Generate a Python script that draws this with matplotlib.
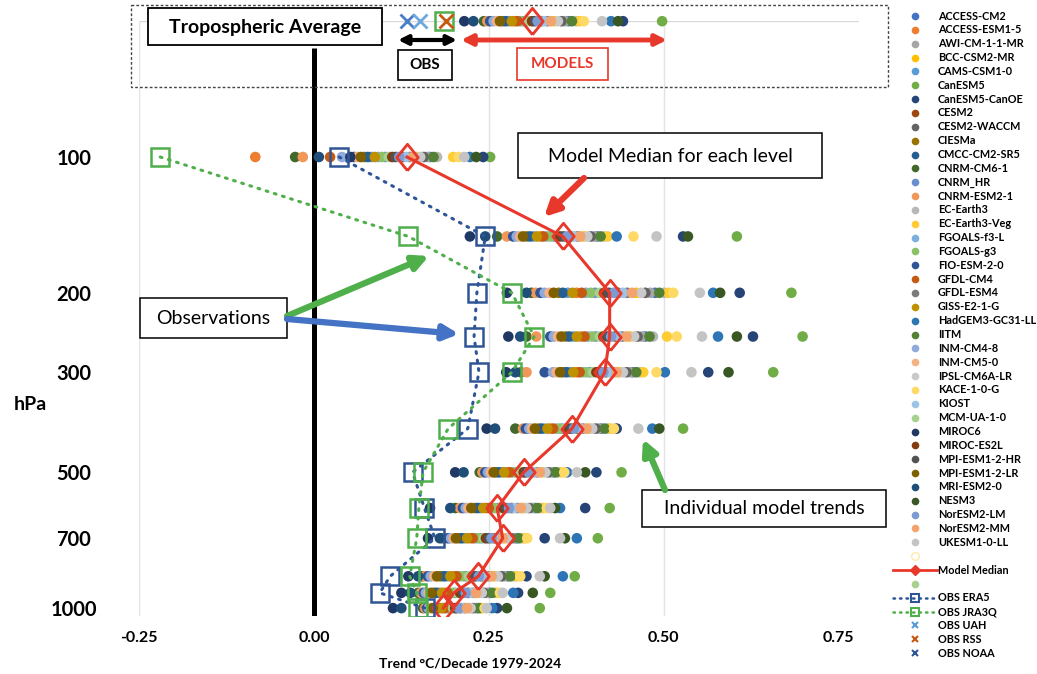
import matplotlib
matplotlib.use("Agg")
import matplotlib.pyplot as plt
from matplotlib.patches import Rectangle, FancyArrowPatch
from matplotlib.ticker import NullLocator, FixedLocator

plt.rcParams['font.family'] = ['Lato', 'DejaVu Sans']

# ---------------- data ----------------
models = ["ACCESS-CM2", "ACCESS-ESM1-5", "AWI-CM-1-1-MR", "BCC-CSM2-MR", "CAMS-CSM1-0",
          "CanESM5", "CanESM5-CanOE", "CESM2", "CESM2-WACCM", "CIESMa", "CMCC-CM2-SR5",
          "CNRM-CM6-1", "CNRM_HR", "CNRM-ESM2-1", "EC-Earth3", "EC-Earth3-Veg",
          "FGOALS-f3-L", "FGOALS-g3", "FIO-ESM-2-0", "GFDL-CM4", "GFDL-ESM4", "GISS-E2-1-G",
          "HadGEM3-GC31-LL", "IITM", "INM-CM4-8", "INM-CM5-0", "IPSL-CM6A-LR", "KACE-1-0-G",
          "KIOST", "MCM-UA-1-0", "MIROC6", "MIROC-ES2L", "MPI-ESM1-2-HR", "MPI-ESM1-2-LR",
          "MRI-ESM2-0", "NESM3", "NorESM2-LM", "NorESM2-MM", "UKESM1-0-LL"]
model_colors = ["#4472C4", "#ED7D31", "#A5A5A5", "#FFC000", "#5B9BD5", "#70AD47",
                "#264478", "#9E480E", "#636363", "#997300", "#255E91", "#43682B",
                "#698ED0", "#F1975A", "#B7B7B7", "#FFCD33", "#7CAFDD", "#8CC168",
                "#2F5597", "#C55A11", "#7B7B7B", "#BF9000", "#2E75B6", "#548235",
                "#8FAADC", "#F4B183", "#C9C9C9", "#FFD966", "#9DC3E6", "#A9D18E",
                "#203864", "#843C0C", "#525252", "#7F6000", "#1F4E79", "#385723",
                "#7C9BD3", "#F2A36E", "#C4C4C4"]

# order in which the per-level trend lists below are written
rank_models = ["MIROC6", "MRI-ESM2-0", "CNRM-CM6-1", "CNRM-ESM2-1", "FIO-ESM-2-0", "INM-CM4-8",
               "INM-CM5-0", "MPI-ESM1-2-LR", "CIESMa", "CMCC-CM2-SR5", "CAMS-CSM1-0",
               "GISS-E2-1-G", "ACCESS-ESM1-5", "GFDL-CM4", "FGOALS-f3-L", "FGOALS-g3",
               "CNRM_HR", "MCM-UA-1-0", "MIROC-ES2L", "MPI-ESM1-2-HR", "NorESM2-LM", "CESM2",
               "KIOST", "GFDL-ESM4", "NorESM2-MM", "BCC-CSM2-MR", "IPSL-CM6A-LR", "CESM2-WACCM",
               "AWI-CM-1-1-MR", "ACCESS-CM2", "IITM", "EC-Earth3", "EC-Earth3-Veg", "KACE-1-0-G",
               "UKESM1-0-LL", "HadGEM3-GC31-LL", "NESM3", "CanESM5-CanOE", "CanESM5"]

levels = [100, 150, 200, 250, 300, 400, 500, 600, 700, 850, 925, 1000]
trop_level = 50

trend_trop = [0.215, 0.228, 0.243, 0.248, 0.252, 0.257, 0.262, 0.266, 0.270, 0.274, 0.279, 0.283,
              0.287, 0.291, 0.296, 0.300, 0.304, 0.308, 0.312, 0.316, 0.320, 0.325, 0.329, 0.334,
              0.339, 0.344, 0.349, 0.354, 0.359, 0.364, 0.369, 0.375, 0.380, 0.386, 0.412, 0.425,
              0.435, 0.442, 0.498]
trend_100 = [0.052, 0.007, -0.027, -0.016, 0.057, 0.040, 0.062, 0.067, 0.072, 0.077, 0.082, 0.087,
             -0.084, 0.023, 0.092, 0.097, 0.102, 0.107, 0.112, 0.117, 0.122, 0.127, 0.132, 0.137,
             0.142, 0.147, 0.152, 0.157, 0.162, 0.166, 0.171, 0.176, 0.199, 0.207, 0.215, 0.223,
             0.232, 0.242, 0.252]
trend_150 = [0.223, 0.245, 0.262, 0.276, 0.285, 0.290, 0.295, 0.299, 0.304, 0.309, 0.314, 0.319,
             0.324, 0.328, 0.333, 0.338, 0.343, 0.348, 0.352, 0.357, 0.362, 0.367, 0.372, 0.377,
             0.381, 0.386, 0.391, 0.396, 0.401, 0.405, 0.410, 0.415, 0.420, 0.457, 0.490, 0.433,
             0.535, 0.528, 0.605]
trend_200 = [0.276, 0.304, 0.311, 0.317, 0.324, 0.330, 0.337, 0.343, 0.350, 0.356, 0.363, 0.370,
             0.376, 0.383, 0.389, 0.396, 0.402, 0.409, 0.415, 0.422, 0.429, 0.435, 0.442, 0.448,
             0.455, 0.461, 0.468, 0.474, 0.481, 0.488, 0.494, 0.501, 0.507, 0.514, 0.552, 0.571,
             0.581, 0.609, 0.683]
trend_250 = [0.278, 0.295, 0.304, 0.318, 0.338, 0.343, 0.349, 0.354, 0.360, 0.365, 0.371, 0.376,
             0.382, 0.387, 0.392, 0.398, 0.403, 0.409, 0.414, 0.420, 0.425, 0.431, 0.436, 0.441,
             0.447, 0.452, 0.458, 0.463, 0.469, 0.474, 0.480, 0.485, 0.505, 0.519, 0.555, 0.578,
             0.605, 0.628, 0.699]
trend_300 = [0.275, 0.288, 0.296, 0.304, 0.330, 0.342, 0.347, 0.352, 0.356, 0.361, 0.366, 0.371,
             0.376, 0.380, 0.385, 0.390, 0.395, 0.399, 0.404, 0.409, 0.414, 0.418, 0.423, 0.428,
             0.433, 0.437, 0.442, 0.447, 0.452, 0.456, 0.461, 0.466, 0.471, 0.490, 0.540, 0.502,
             0.593, 0.564, 0.657]
trend_400 = [0.247, 0.259, 0.288, 0.299, 0.303, 0.308, 0.312, 0.316, 0.321, 0.325, 0.329, 0.334,
             0.338, 0.342, 0.347, 0.351, 0.355, 0.360, 0.364, 0.368, 0.372, 0.377, 0.381, 0.385,
             0.390, 0.394, 0.398, 0.403, 0.407, 0.411, 0.416, 0.420, 0.424, 0.429, 0.464, 0.484,
             0.494, 0.433, 0.528]
trend_500 = [0.202, 0.214, 0.237, 0.241, 0.245, 0.249, 0.253, 0.257, 0.260, 0.264, 0.268, 0.272,
             0.276, 0.280, 0.284, 0.288, 0.292, 0.296, 0.300, 0.303, 0.307, 0.311, 0.315, 0.319,
             0.323, 0.327, 0.331, 0.335, 0.339, 0.343, 0.346, 0.350, 0.354, 0.358, 0.376, 0.362,
             0.388, 0.404, 0.440]
trend_600 = [0.166, 0.195, 0.202, 0.209, 0.213, 0.217, 0.221, 0.225, 0.230, 0.234, 0.238, 0.242,
             0.246, 0.250, 0.254, 0.258, 0.263, 0.267, 0.271, 0.275, 0.279, 0.283, 0.287, 0.291,
             0.296, 0.300, 0.304, 0.308, 0.312, 0.316, 0.320, 0.325, 0.329, 0.333, 0.338, 0.352,
             0.345, 0.388, 0.423]
trend_700 = [0.163, 0.180, 0.184, 0.188, 0.192, 0.196, 0.200, 0.203, 0.207, 0.211, 0.215, 0.219,
             0.223, 0.227, 0.231, 0.235, 0.239, 0.243, 0.246, 0.250, 0.254, 0.258, 0.262, 0.266,
             0.270, 0.274, 0.278, 0.282, 0.286, 0.289, 0.293, 0.297, 0.301, 0.305, 0.352, 0.376,
             0.359, 0.330, 0.406]
trend_850 = [0.135, 0.149, 0.154, 0.158, 0.163, 0.167, 0.172, 0.176, 0.181, 0.186, 0.190, 0.195,
             0.199, 0.204, 0.208, 0.213, 0.217, 0.222, 0.227, 0.231, 0.236, 0.240, 0.245, 0.249,
             0.254, 0.258, 0.263, 0.268, 0.272, 0.277, 0.281, 0.286, 0.290, 0.295, 0.323, 0.356,
             0.330, 0.304, 0.373]
trend_925 = [0.125, 0.138, 0.149, 0.153, 0.157, 0.160, 0.164, 0.168, 0.172, 0.175, 0.179, 0.183,
             0.187, 0.191, 0.194, 0.198, 0.202, 0.206, 0.209, 0.213, 0.217, 0.221, 0.225, 0.228,
             0.232, 0.236, 0.240, 0.243, 0.247, 0.251, 0.255, 0.259, 0.262, 0.266, 0.270, 0.285,
             0.313, 0.292, 0.338]
trend_1000 = [0.113, 0.125, 0.156, 0.159, 0.162, 0.164, 0.167, 0.170, 0.173, 0.176, 0.179, 0.182,
              0.184, 0.187, 0.190, 0.193, 0.196, 0.199, 0.202, 0.204, 0.207, 0.210, 0.213, 0.216,
              0.219, 0.222, 0.224, 0.227, 0.230, 0.233, 0.236, 0.239, 0.241, 0.244, 0.247, 0.255,
              0.276, 0.262, 0.323]
level_rows = [trend_100, trend_150, trend_200, trend_250, trend_300, trend_400, trend_500,
              trend_600, trend_700, trend_850, trend_925, trend_1000]

median_levels = [0.133, 0.356, 0.423, 0.423, 0.416, 0.369, 0.300, 0.262, 0.270, 0.235, 0.200, 0.185]
median_trop = 0.312

obs_era5 = [0.036, 0.245, 0.233, 0.229, 0.236, 0.220, 0.141, 0.158, 0.173, 0.109, 0.094, 0.159]
obs_jra3q = [-0.220, 0.135, 0.283, 0.315, 0.283, 0.192, 0.156, 0.150, 0.147, 0.137, 0.147, 0.149]
trop_jra3q = 0.186
trop_uah = 0.152
trop_rss = 0.189
trop_noaa = 0.133

xticks = [-0.25, 0.0, 0.25, 0.50, 0.75]
xtick_labels = ["-0.25", "0.00", "0.25", "0.50", "0.75"]
ytick_levels = [100, 200, 300, 500, 700, 1000]

RED = "#E8382B"
ERA_C = "#2F5597"
JRA_C = "#4FAF4A"

# ---------------- figure ----------------
W, H = 1037, 674
fig = plt.figure(figsize=(W / 100, H / 100), dpi=100)

x_left_px, x_right_px = 139.25, 314 + 0.78 * 699
y_top_px, y_bot_px = 21.2, 616
ax = fig.add_axes([x_left_px / W, 1 - y_bot_px / H,
                   (x_right_px - x_left_px) / W, (y_bot_px - y_top_px) / H])
ax.set_yscale('log')
ax.set_xlim(-0.25, 0.78)
ax.set_ylim(1041, trop_level)
for s in ax.spines.values():
    s.set_visible(False)

ax.vlines([-0.25, 0.25, 0.50], trop_level, 1041, color="#E3E3E3", lw=1, zorder=0)
ax.hlines(trop_level, -0.25, 0.78, color="#D9D9D9", lw=1, zorder=0)
ax.vlines(0, 57.3, 1041, color="black", lw=3.6, zorder=1)

ax.yaxis.set_major_locator(FixedLocator(ytick_levels))
ax.yaxis.set_minor_locator(NullLocator())
ax.set_yticklabels([str(v) for v in ytick_levels], fontsize=14.5, fontweight='bold')
for t in ax.get_yticklabels():
    t.set_ha('center')
ax.tick_params(axis='y', length=0, pad=47)
ax.set_xticks(xticks)
ax.set_xticklabels(xtick_labels, fontsize=11.5, fontweight='bold')
ax.tick_params(axis='x', length=0, pad=11)

rank_index = {m: i for i, m in enumerate(rank_models)}
for m, c in zip(models, model_colors):
    r = rank_index[m]
    xs = [trend_trop[r]] + [row[r] for row in level_rows]
    ys = [trop_level] + levels
    ax.scatter(xs, ys, s=58, color=c, edgecolors='none', zorder=3, clip_on=False)

diamond = [(0, -1.23), (1, 0), (0, 1.23), (-1, 0), (0, -1.23)]
ax.plot(median_levels, levels, color=RED, lw=2.2, marker=diamond, ms=19, mfc='none',
        mec=RED, mew=2, zorder=5)
ax.plot([median_trop], [trop_level], ls='none', marker=diamond, ms=19, mfc='none',
        mec=RED, mew=2, zorder=5, clip_on=False)

ax.plot(obs_era5, levels, color=ERA_C, lw=2.2, ls=(0, (0.6, 2.2)), dash_capstyle='round',
        marker='s', ms=13, mfc='none', mec=ERA_C, mew=1.8, zorder=6)
ax.plot(obs_jra3q, levels, color=JRA_C, lw=2.2, ls=(0, (0.6, 2.2)), dash_capstyle='round',
        marker='s', ms=13, mfc='none', mec=JRA_C, mew=1.8, zorder=6)
ax.plot([trop_jra3q], [trop_level], ls='none', marker='s', ms=13, mfc='none', mec=JRA_C,
        mew=1.8, zorder=6, clip_on=False)
ax.plot([trop_noaa], [trop_level], ls='none', marker='x', ms=10, mec="#4A7FC8", mew=2,
        zorder=6, clip_on=False)
ax.plot([trop_uah], [trop_level], ls='none', marker='x', ms=10, mec="#6FA8DC", mew=2,
        zorder=6, clip_on=False)
ax.plot([trop_rss], [trop_level], ls='none', marker='x', ms=10, mec="#C55A11", mew=2,
        zorder=7, clip_on=False)

# ---------------- overlay (annotations + legend) ----------------
ov = fig.add_axes([0, 0, 1, 1])
ov.set_xlim(0, W)
ov.set_ylim(H, 0)
ov.axis('off')
ov.set_zorder(5)


def box(x0, y0, x1, y1, ec='black', lw=1.1, fc='white', ls='-'):
    ov.add_patch(Rectangle((x0, y0), x1 - x0, y1 - y0, fc=fc, ec=ec, lw=lw, ls=ls, zorder=2))


def arrow(p0, p1, color, lw=4, style='-|>', ms=20):
    ov.add_patch(FancyArrowPatch(p0, p1, arrowstyle=style, mutation_scale=ms, lw=lw,
                                 color=color, zorder=3, shrinkA=0, shrinkB=0))


box(131, 5, 888, 87, ec='#444444', lw=1, fc='none', ls=(0, (2, 1.5)))
box(148, 8, 382, 45, lw=1.3)
ov.text(265, 27, "Tropospheric Average", ha='center', va='center', fontsize=14,
        fontweight='bold', zorder=4)

arrow((398, 40), (457, 40), 'black', lw=3, style='<|-|>', ms=14)
box(398, 50, 452, 80, lw=1.2)
ov.text(425, 65, "OBS", ha='center', va='center', fontsize=11, fontweight='bold', zorder=4)

arrow((461, 40), (667, 40), RED, lw=3.5, style='<|-|>', ms=16)
box(517, 48, 608, 80, ec=RED, lw=1.2)
ov.text(562, 64, "MODELS", ha='center', va='center', fontsize=11, fontweight='bold',
        color=RED, zorder=4)

box(518, 133, 822, 178)
ov.text(670, 156, "Model Median for each level", ha='center', va='center', fontsize=14,
        zorder=4)
arrow((584, 178), (544, 217), RED, lw=4.5, ms=22)

box(140, 298, 287, 338)
ov.text(213.5, 318, "Observations", ha='center', va='center', fontsize=14, zorder=4)
arrow((287, 316), (429, 256), JRA_C, lw=4.5, ms=22)
arrow((287, 319), (459, 334), "#4472C4", lw=4.5, ms=22)

box(642, 490, 886, 527)
ov.text(764, 509, "Individual model trends", ha='center', va='center', fontsize=14, zorder=4)
arrow((665, 490), (643, 439), JRA_C, lw=4.5, ms=22)

ov.text(30, 405, "hPa", ha='center', va='center', fontsize=14, fontweight='bold')
ov.text(470, 663, "Trend °C/Decade 1979-2024", ha='center', va='center', fontsize=10,
        fontweight='bold')

# legend
leg_y0, leg_dy = 16, 13.85
mx, tx = 915, 938
LFS = 7.8
for i, (m, c) in enumerate(zip(models, model_colors)):
    y = leg_y0 + i * leg_dy
    ov.plot([mx], [y], 'o', ms=5.5, color=c, mec='none')
    ov.text(tx, y, m, ha='left', va='center', fontsize=LFS, fontweight='bold')
i = len(models)
ov.plot([mx], [leg_y0 + i * leg_dy], 'o', ms=5.5, mfc='none', mec="#FFE699", mew=0.8)
i += 1
y = leg_y0 + i * leg_dy
ov.plot([893, 937], [y, y], color=RED, lw=2)
ov.plot([mx], [y], marker='D', ms=5, color=RED)
ov.text(tx, y, "Model Median", ha='left', va='center', fontsize=LFS, fontweight='bold')
i += 1
ov.plot([mx], [leg_y0 + i * leg_dy], 'o', ms=5.5, color="#A9D18E", mec='none')
for lab, col in [("OBS ERA5", ERA_C), ("OBS JRA3Q", JRA_C)]:
    i += 1
    y = leg_y0 + i * leg_dy
    ov.plot([893, 937], [y, y], color=col, lw=1.8, ls=(0, (0.6, 2)), dash_capstyle='round')
    ov.plot([mx], [y], marker='s', ms=6, mfc='none', mec=col, mew=1.5)
    ov.text(tx, y, lab, ha='left', va='center', fontsize=LFS, fontweight='bold')
for lab, col in [("OBS UAH", "#5B9BD5"), ("OBS RSS", "#C55A11"), ("OBS NOAA", "#2F5597")]:
    i += 1
    y = leg_y0 + i * leg_dy
    ov.plot([mx], [y], marker='x', ms=5, mec=col, mew=1.5)
    ov.text(tx, y, lab, ha='left', va='center', fontsize=LFS, fontweight='bold')

fig.savefig("out.png", dpi=100)
